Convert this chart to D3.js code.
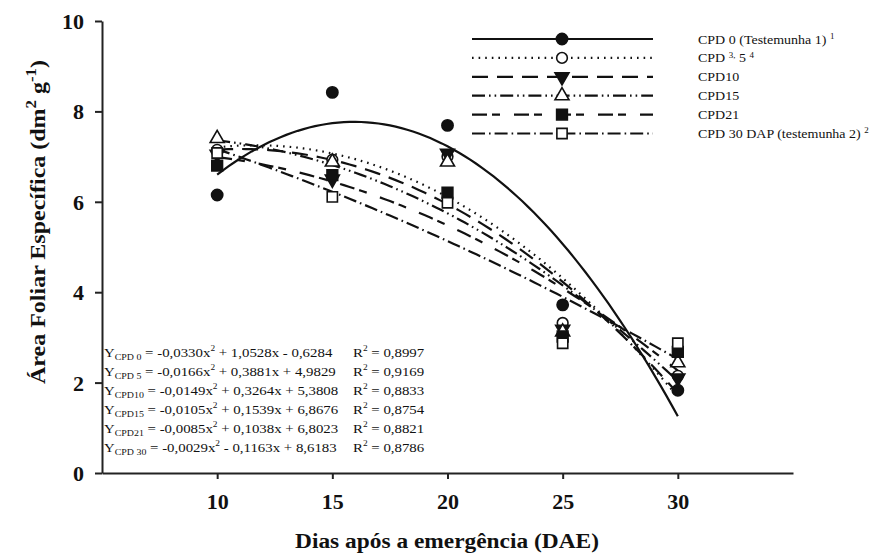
<!DOCTYPE html>
<html>
<head>
<meta charset="utf-8">
<script src="https://cdn.jsdelivr.net/npm/d3@7"></script>
<style>
  html, body { margin: 0; padding: 0; background: #fff; }
  svg { display: block; }
  text { font-family: "Liberation Serif", "Times New Roman", serif; fill: #111; }
</style>
</head>
<body>
<svg id="chart" width="877" height="554"></svg>
<script>
// Days after emergence at which leaf samples were taken
const days = [10, 15, 20, 25, 30];

// Observed specific leaf area (dm² g⁻¹) per treatment
const cpd0  = [6.15, 8.42, 7.69, 3.72, 1.83];
const cpd5  = [7.15, 6.93, 7.00, 3.32, 2.15];
const cpd10 = [7.05, 6.50, 7.07, 3.18, 2.10];
const cpd15 = [7.40, 6.88, 6.88, 3.12, 2.44];
const cpd21 = [6.80, 6.59, 6.20, 3.02, 2.68];
const cpd30 = [7.08, 6.11, 5.98, 2.87, 2.87];

// Quadratic regression coefficients (y = a·x² + b·x + c) and R²
const coefA = [-0.0330, -0.0166, -0.0149, -0.0105, -0.0085, -0.0029];
const coefB = [ 1.0528,  0.3881,  0.3264,  0.1539,  0.1038, -0.1163];
const coefC = [-0.6284,  4.9829,  5.3808,  6.8676,  6.8023,  8.6183];
const rSq   = [ 0.8997,  0.9169,  0.8833,  0.8754,  0.8821,  0.8786];

// Equation subscripts and axis ticks
const eqSubs = ["CPD 0", "CPD 5", "CPD10", "CPD15", "CPD21", "CPD 30"];
const xTicks = [10, 15, 20, 25, 30];
const yTicks = [0, 2, 4, 6, 8, 10];

const seriesValues = [cpd0, cpd5, cpd10, cpd15, cpd21, cpd30];
const styles = [
  { dash: null,                   symbol: d3.symbolCircle,   size: 100, fill: "#111", rot: 0 },
  { dash: "1.6,5",                symbol: d3.symbolCircle,   size: 90,  fill: "#fff", rot: 0 },
  { dash: "16,9",                 symbol: d3.symbolTriangle, size: 85,  fill: "#111", rot: 180 },
  { dash: "13,4,1.6,4,1.6,4",     symbol: d3.symbolTriangle, size: 85,  fill: "#fff", rot: 0 },
  { dash: "15,5,8,14",            symbol: d3.symbolSquare,   size: 115, fill: "#111", rot: 0 },
  { dash: "13,4,1.6,4",           symbol: d3.symbolSquare,   size: 105, fill: "#fff", rot: 0 }
];

const svg = d3.select("#chart");
const x = d3.scaleLinear().domain([5, 35]).range([102, 793]);
const y = d3.scaleLinear().domain([0, 10]).range([473, 21]);

// Axes
const xAxis = svg.append("g").attr("transform", `translate(0,${y(0)})`)
  .call(d3.axisBottom(x).tickValues(xTicks).tickSize(6).tickSizeOuter(0).tickPadding(14));
const yAxis = svg.append("g").attr("transform", `translate(${x(5)},0)`)
  .call(d3.axisLeft(y).tickValues(yTicks).tickSize(7).tickSizeOuter(0).tickPadding(11));
[xAxis, yAxis].forEach(g => {
  g.select(".domain").attr("stroke", "#222").attr("stroke-width", 2);
  g.selectAll(".tick line").attr("stroke", "#222").attr("stroke-width", 2);
  g.selectAll(".tick text")
    .style("font-family", '"Liberation Serif", "Times New Roman", serif')
    .style("font-size", "22px").style("font-weight", "bold").attr("fill", "#111");
});
yAxis.selectAll(".tick text").attr("dy", "0.34em");

// Axis titles (set slightly wide, like the typeface used in the original figure)
svg.append("text")
  .attr("transform", "translate(447,548) scale(1.17,1)")
  .attr("text-anchor", "middle")
  .style("font-size", "20px").style("font-weight", "bold")
  .text("Dias após a emergência (DAE)");

const yt = svg.append("text")
  .attr("transform", "translate(45,222) rotate(-90) scale(1.2,1)")
  .attr("text-anchor", "middle")
  .style("font-size", "20px").style("font-weight", "bold");
yt.append("tspan").text("Área Foliar Específica (dm");
yt.append("tspan").attr("dy", -9).style("font-size", "14px").text("2");
yt.append("tspan").attr("dy", 9).text(" g");
yt.append("tspan").attr("dy", -9).style("font-size", "14px").text("-1");
yt.append("tspan").attr("dy", 9).text(")");

// Fitted quadratic curves
const line = d3.line().x(d => x(d[0])).y(d => y(d[1]));
const xs = d3.range(10, 30.001, 0.25);
seriesValues.forEach((vals, i) => {
  const pts = xs.map(v => [v, coefA[i] * v * v + coefB[i] * v + coefC[i]]);
  svg.append("path").datum(pts)
    .attr("d", line).attr("fill", "none")
    .attr("stroke", "#111").attr("stroke-width", 2.2)
    .attr("stroke-dasharray", styles[i].dash);
});

// Observed points
function marker(g, st, cx, cy) {
  g.append("path")
    .attr("d", d3.symbol().type(st.symbol).size(st.size)())
    .attr("transform", `translate(${cx},${cy}) rotate(${st.rot})`)
    .attr("fill", st.fill).attr("stroke", "#111").attr("stroke-width", 1.6);
}
seriesValues.forEach((vals, i) => {
  const g = svg.append("g");
  vals.forEach((v, j) => marker(g, styles[i], x(days[j]), y(v)));
});

// Legend
const legendNames = [
  [["CPD 0 (Testemunha 1) ", 0], ["1", 1]],
  [["CPD ", 0], ["3,", 1], [" 5 ", 0], ["4", 1]],
  [["CPD10", 0]],
  [["CPD15", 0]],
  [["CPD21", 0]],
  [["CPD 30 DAP (testemunha 2) ", 0], ["2", 1]]
];
legendNames.forEach((parts, i) => {
  const ly = 39 + i * 18.9;
  svg.append("line")
    .attr("x1", 472).attr("x2", 653).attr("y1", ly).attr("y2", ly)
    .attr("stroke", "#111").attr("stroke-width", 2.2)
    .attr("stroke-dasharray", styles[i].dash);
  marker(svg, styles[i], 562, ly);
  const t = svg.append("text")
    .attr("transform", `translate(698,${ly + 4.5}) scale(1.12,1)`)
    .style("font-size", "12.5px").attr("xml:space", "preserve");
  parts.forEach(([s, sup]) => {
    const sp = t.append("tspan").text(s);
    if (sup) sp.style("font-size", "8px").attr("baseline-shift", "5");
  });
});

// Regression equations
const fmt = v => Math.abs(v).toFixed(4).replace(".", ",");
seriesValues.forEach((vals, i) => {
  const by = 357 + i * 19;
  const t = svg.append("text")
    .attr("transform", `translate(104,${by}) scale(1.1,1)`)
    .style("font-size", "13.5px").attr("xml:space", "preserve");
  t.append("tspan").text("Y");
  t.append("tspan").style("font-size", "9px").attr("baseline-shift", "-3").text(eqSubs[i]);
  t.append("tspan").text(` = ${coefA[i] < 0 ? "-" : ""}${fmt(coefA[i])}x`);
  t.append("tspan").style("font-size", "8.5px").attr("baseline-shift", "6").text("2");
  t.append("tspan").text(` ${coefB[i] < 0 ? "-" : "+"} ${fmt(coefB[i])}x ${coefC[i] < 0 ? "-" : "+"} ${fmt(coefC[i])}`);
  const r = svg.append("text")
    .attr("transform", `translate(353,${by}) scale(1.1,1)`)
    .style("font-size", "13.5px").attr("xml:space", "preserve");
  r.append("tspan").text("R");
  r.append("tspan").style("font-size", "8.5px").attr("baseline-shift", "6").text("2");
  r.append("tspan").text(` = ${fmt(rSq[i])}`);
});
</script>
</body>
</html>
